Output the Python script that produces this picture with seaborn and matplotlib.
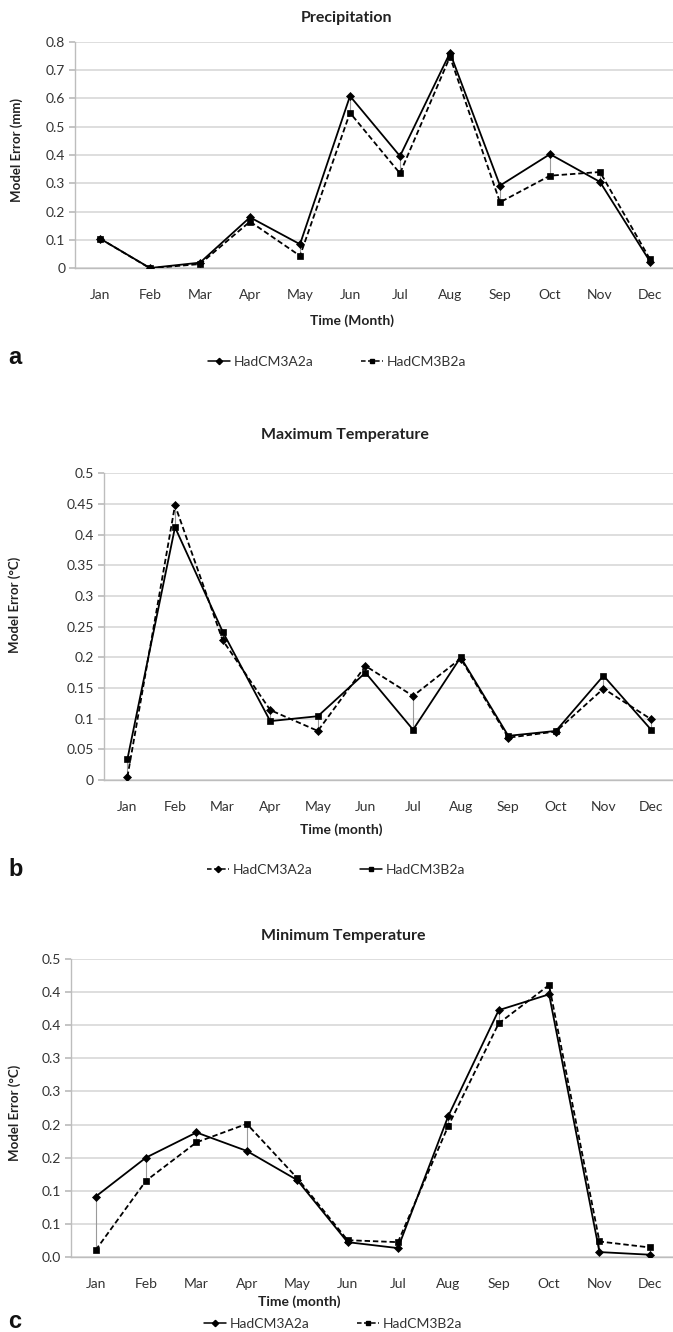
import numpy as np
import pandas as pd
import matplotlib
matplotlib.use("Agg")
import matplotlib.pyplot as plt
from matplotlib.lines import Line2D
import seaborn as sns

months = ["Jan", "Feb", "Mar", "Apr", "May", "Jun", "Jul", "Aug", "Sep", "Oct", "Nov", "Dec"]
series_names = ["HadCM3A2a", "HadCM3B2a"]

# a) precipitation error (mm)
precip_a2a = [0.105, 0.001, 0.020, 0.180, 0.085, 0.608, 0.396, 0.761, 0.292, 0.403, 0.305, 0.024]
precip_b2a = [0.105, 0.000, 0.015, 0.165, 0.044, 0.549, 0.335, 0.747, 0.233, 0.327, 0.340, 0.032]
# b) maximum temperature error (C)
tmax_a2a = [0.005, 0.448, 0.228, 0.114, 0.080, 0.186, 0.137, 0.198, 0.069, 0.079, 0.149, 0.099]
tmax_b2a = [0.034, 0.412, 0.242, 0.096, 0.104, 0.175, 0.082, 0.200, 0.072, 0.080, 0.170, 0.082]
# c) minimum temperature error (C)
tmin_a2a = [0.091, 0.150, 0.188, 0.160, 0.116, 0.022, 0.013, 0.213, 0.373, 0.397, 0.007, 0.003]
tmin_b2a = [0.010, 0.115, 0.173, 0.201, 0.119, 0.025, 0.022, 0.198, 0.353, 0.411, 0.023, 0.014]

ticks_a = [0, 0.1, 0.2, 0.3, 0.4, 0.5, 0.6, 0.7, 0.8]
ticklabels_a = ["0", "0.1", "0.2", "0.3", "0.4", "0.5", "0.6", "0.7", "0.8"]
ticks_b = [0, 0.05, 0.1, 0.15, 0.2, 0.25, 0.3, 0.35, 0.4, 0.45, 0.5]
ticklabels_b = ["0", "0.05", "0.1", "0.15", "0.2", "0.25", "0.3", "0.35", "0.4", "0.45", "0.5"]
# panel c axis labels are rounded to one decimal in the original
ticks_c = [0, 0.05, 0.1, 0.15, 0.2, 0.25, 0.3, 0.35, 0.4, 0.45]
ticklabels_c = ["0.0", "0.1", "0.1", "0.2", "0.2", "0.3", "0.3", "0.4", "0.4", "0.5"]

sns.set_theme(style="white")
plt.rcParams["font.family"] = ["Lato", "DejaVu Sans"]

W, H = 673, 1332
fig = plt.figure(figsize=(W / 100, H / 100), dpi=100)
DASH = (3, 1.6)


def px(x, y):
    return x / W, 1 - y / H


def make_panel(rect, a2a, b2a, ticks, ticklabels, ymax, dashed, letter, title, title_xy,
               xlabel, xlabel_xy, ylabel, ylabel_xy, letter_y, legend_xy):
    left, top, right, bottom = rect
    ax = fig.add_axes([left / W, 1 - bottom / H, (right - left) / W, (bottom - top) / H])
    df = pd.DataFrame({
        "x": list(range(12)) * 2,
        "value": list(a2a) + list(b2a),
        "series": [series_names[0]] * 12 + [series_names[1]] * 12,
    })
    dash_map = {name: (DASH if name == dashed else "") for name in series_names}

    # high-low connector lines between the two series
    ax.vlines(range(12), np.minimum(a2a, b2a), np.maximum(a2a, b2a),
              color="#9a9a9a", lw=0.8, zorder=2)
    sns.lineplot(data=df, x="x", y="value", style="series", ax=ax, color="black",
                 markers={series_names[0]: "D", series_names[1]: "s"},
                 dashes=dash_map, markersize=4, markeredgecolor="black",
                 markeredgewidth=0.5, lw=1.3, legend=False, zorder=3)
    ax.set_xlim(-0.5, 11.46)
    ax.set_ylim(0, ymax)
    ax.set_xticks(range(12))
    ax.set_xticklabels(months, fontsize=10, color="#333333")
    ax.set_yticks(ticks)
    ax.set_yticklabels(ticklabels, fontsize=10, color="#333333")
    ax.set_xlabel("")
    ax.set_ylabel("")
    ax.grid(axis="y", color="#d4d4d4", lw=1.1)
    ax.set_axisbelow(True)
    for s in ["top", "right"]:
        ax.spines[s].set_visible(False)
    for s in ["left", "bottom"]:
        ax.spines[s].set_color("#bdbdbd")
        ax.spines[s].set_linewidth(1.0)
    ax.tick_params(axis="y", left=True, length=4, color="#bdbdbd", pad=3)
    ax.tick_params(axis="x", bottom=False, pad=9)

    fig.text(*px(*title_xy), title, ha="center", va="center", fontsize=11.5,
             fontweight="bold", color="#222222")
    fig.text(*px(*xlabel_xy), xlabel, ha="center", va="center", fontsize=10,
             fontweight="bold", color="#222222")
    fig.text(*px(*ylabel_xy), ylabel, ha="center", va="center", fontsize=9.5,
             fontweight="bold", rotation=90, color="#222222")
    fig.text(*px(8, letter_y), letter, ha="left", va="center", fontsize=17,
             fontweight="bold", family="Liberation Sans", color="#111111")

    handles = []
    for name in series_names:
        ls = (0, DASH) if name == dashed else "-"
        mk = "D" if name == series_names[0] else "s"
        handles.append(Line2D([], [], color="black", lw=1.1, ls=ls, marker=mk,
                              markersize=3.2, markeredgecolor="black"))
    fig.legend(handles, series_names, loc="center", bbox_to_anchor=px(*legend_xy),
               ncol=2, frameon=False, fontsize=10, handlelength=1.6,
               handletextpad=0.25, columnspacing=3.4, labelcolor="#333333")
    return ax


make_panel((75, 41.7, 673, 268.3), precip_a2a, precip_b2a, ticks_a, ticklabels_a, 0.8,
           series_names[1], "a", "Precipitation", (347, 18),
           "Time (Month)", (352, 321), "Model Error (mm)", (17, 150), 357, (337, 362))

make_panel((103.6, 473.3, 673, 780), tmax_a2a, tmax_b2a, ticks_b, ticklabels_b, 0.5,
           series_names[0], "b", "Maximum Temperature", (345, 435),
           "Time (month)", (341, 830), "Model Error (°C)", (15, 605), 870, (336, 870))

make_panel((70.5, 959.3, 673, 1256.7), tmin_a2a, tmin_b2a, ticks_c, ticklabels_c, 0.45,
           series_names[1], "c", "Minimum Temperature", (343, 936),
           "Time (month)", (299, 1302), "Model Error (°C)", (15, 1113), 1322, (333, 1324))

fig.savefig("out.png", dpi=100)
